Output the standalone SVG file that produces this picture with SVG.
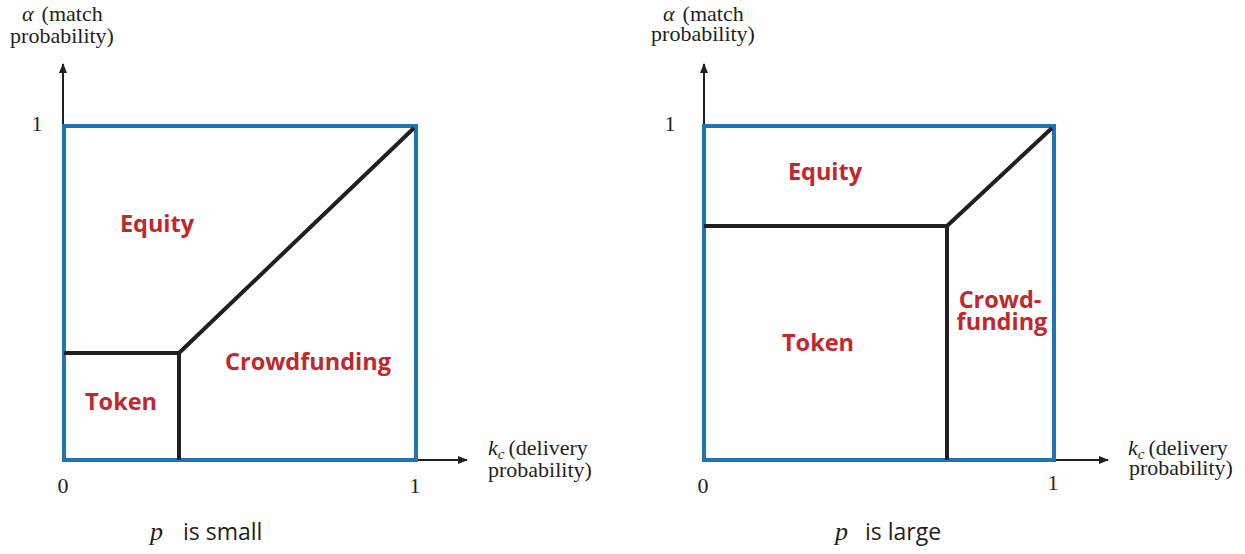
<svg xmlns="http://www.w3.org/2000/svg" width="1245" height="554" viewBox="0 0 1245 554">
<defs>
<marker id="ah" markerWidth="10" markerHeight="8" refX="9" refY="4" orient="auto" markerUnits="userSpaceOnUse">
<path d="M0,0 L10,4 L0,8 Z" fill="#231f20"/>
</marker>
<style>
.box{fill:none;stroke:#1f73b7;stroke-width:4}
.bl{fill:none;stroke:#231f20;stroke-width:4;stroke-linejoin:miter}
.ax{fill:none;stroke:#231f20;stroke-width:2}
.lab{font-family:"Open Sans","Liberation Sans",sans-serif;font-weight:bold;font-size:23.5px;fill:#c1272d;text-anchor:middle}
.ser{font-family:"Liberation Serif",serif;font-size:22px;fill:#231f20}
.cap{font-family:"Open Sans","Liberation Sans",sans-serif;font-size:23px;fill:#231f20}
.it{font-family:"Liberation Serif",serif;font-style:italic}
</style>
</defs>
<rect width="1245" height="554" fill="#fff"/>
<g id="connectors">
<line class="ax" x1="63" y1="126" x2="63" y2="64" marker-end="url(#ah)"/>
<line class="ax" x1="416" y1="460" x2="467" y2="460" marker-end="url(#ah)"/>
<line class="ax" x1="704" y1="126" x2="704" y2="64" marker-end="url(#ah)"/>
<line class="ax" x1="1054" y1="460" x2="1108" y2="460" marker-end="url(#ah)"/>
</g>
<g id="left-panel">
<rect class="box" x="64" y="126" width="352" height="334"/>
<polyline class="bl" points="64,353 179,353 179,460"/>
<line class="bl" x1="179" y1="353" x2="414" y2="128"/>
<text class="lab" x="157" y="232">Equity</text>
<text class="lab" x="308" y="370">Crowdfunding</text>
<text class="lab" x="121" y="410">Token</text>
<text class="ser" x="22" y="21"><tspan class="it">α</tspan><tspan dx="8">(match</tspan></text>
<text class="ser" x="62" y="43" text-anchor="middle">probability)</text>
<text class="ser" x="37" y="131" text-anchor="middle">1</text>
<text class="ser" x="63" y="493" text-anchor="middle">0</text>
<text class="ser" x="415" y="493" text-anchor="middle">1</text>
<text class="ser" x="488" y="455"><tspan class="it">k</tspan><tspan class="it" font-size="15" dy="4">c</tspan><tspan dy="-4" dx="4">(delivery</tspan></text>
<text class="ser" x="488" y="477">probability)</text>
<text class="cap" x="150" y="540"><tspan class="it" font-size="26">p</tspan><tspan x="183">is small</tspan></text>
</g>
<g id="right-panel">
<rect class="box" x="704" y="126" width="350" height="334"/>
<polyline class="bl" points="704,226 947,226 947,460"/>
<line class="bl" x1="947" y1="226" x2="1052" y2="128"/>
<text class="lab" x="825" y="180">Equity</text>
<text class="lab" x="818" y="351">Token</text>
<text class="lab" x="1000" y="308">Crowd-</text>
<text class="lab" x="1002" y="330">funding</text>
<text class="ser" x="663" y="21"><tspan class="it">α</tspan><tspan dx="8">(match</tspan></text>
<text class="ser" x="703" y="41" text-anchor="middle">probability)</text>
<text class="ser" x="670" y="131" text-anchor="middle">1</text>
<text class="ser" x="703" y="493" text-anchor="middle">0</text>
<text class="ser" x="1053" y="490" text-anchor="middle">1</text>
<text class="ser" x="1128" y="455"><tspan class="it">k</tspan><tspan class="it" font-size="15" dy="4">c</tspan><tspan dy="-4" dx="4">(delivery</tspan></text>
<text class="ser" x="1129" y="475">probability)</text>
<text class="cap" x="835" y="540"><tspan class="it" font-size="26">p</tspan><tspan x="865">is large</tspan></text>
</g>
</svg>
